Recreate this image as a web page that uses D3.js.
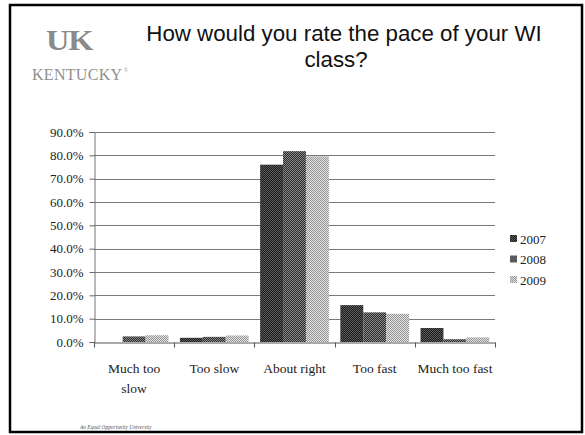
<!DOCTYPE html>
<html>
<head>
<meta charset="utf-8">
<script src="https://cdn.jsdelivr.net/npm/d3@7/dist/d3.min.js"></script>
<style>
  html, body { margin: 0; padding: 0; background: #fff; }
  svg { display: block; }
</style>
</head>
<body>
<svg id="chart" width="585" height="435"></svg>
<script>
// Survey: "How would you rate the pace of your WI class?"
const categories = [["Much too", "slow"], ["Too slow"], ["About right"], ["Too fast"], ["Much too fast"]];
const years = ["2007", "2008", "2009"];
const values2007 = [0.0, 1.8, 76.0, 15.8, 6.0];
const values2008 = [2.4, 2.2, 81.8, 12.7, 1.2];
const values2009 = [2.9, 2.8, 79.6, 12.1, 2.0];
const yTicks = [0, 10, 20, 30, 40, 50, 60, 70, 80, 90];

const series = [values2007, values2008, values2009];

const svg = d3.select("#chart");
const serif = "'Liberation Serif', 'DejaVu Serif', serif";
const sans = "'Liberation Sans', Arial, sans-serif";

// Dithered fills for the three years
const defs = svg.append("defs");
const patternSpecs = [
  { id: "p2007", bg: "#1c1c1c", fg: "#5a5a5a" },
  { id: "p2008", bg: "#2a2a2a", fg: "#8a8a8a" },
  { id: "p2009", bg: "#e2e2e2", fg: "#959595" }
];
patternSpecs.forEach(p => {
  const pat = defs.append("pattern").attr("id", p.id)
    .attr("patternUnits", "userSpaceOnUse").attr("width", 2).attr("height", 2);
  pat.append("rect").attr("width", 2).attr("height", 2).attr("fill", p.bg);
  pat.append("rect").attr("x", 0).attr("y", 0).attr("width", 1).attr("height", 1).attr("fill", p.fg);
  pat.append("rect").attr("x", 1).attr("y", 1).attr("width", 1).attr("height", 1).attr("fill", p.fg);
});
const fills = ["url(#p2007)", "url(#p2008)", "url(#p2009)"];

// Slide frame
svg.append("rect").attr("x", 10).attr("y", 5).attr("width", 572).attr("height", 427)
  .attr("fill", "none").attr("stroke", "#000").attr("stroke-width", 2.5);

// Logo
const logo = svg.append("g");
logo.append("text").attr("x", 0).attr("y", 0)
  .attr("transform", "translate(46,50) scale(1.12,1)")
  .style("font-family", serif).style("font-weight", "bold").attr("font-size", 29)
  .attr("fill", "#8a8a8a").attr("letter-spacing", -1)
  .text("UK");
logo.append("text").attr("x", 32).attr("y", 80)
  .style("font-family", serif).attr("font-size", 16).attr("fill", "#8f8f8f")
  .attr("letter-spacing", 0.3)
  .text("KENTUCKY");
logo.append("text").attr("x", 124).attr("y", 72)
  .style("font-family", sans).attr("font-size", 5).attr("fill", "#999")
  .text("®");

// Title
const title = svg.append("g").style("font-family", sans).attr("font-size", 22.3)
  .attr("fill", "#111").attr("text-anchor", "middle");
title.append("text").attr("x", 344).attr("y", 41).text("How would you rate the pace of your WI");
title.append("text").attr("x", 336).attr("y", 67).text("class?");

// Plot area
const margin = { left: 94, right: 495, top: 132, bottom: 342 };
const x = d3.scaleBand().domain(d3.range(categories.length))
  .range([margin.left, margin.right]).paddingInner(0).paddingOuter(0);
const xs = d3.scaleBand().domain(d3.range(years.length))
  .range([0, x.bandwidth()]).paddingInner(0).paddingOuter(0.25);
const y = d3.scaleLinear().domain([0, 90]).range([margin.bottom, margin.top]);

// Gridlines
svg.append("g").selectAll("line").data(yTicks.filter(t => t > 0)).join("line")
  .attr("x1", margin.left).attr("x2", margin.right)
  .attr("y1", d => Math.round(y(d)) + 0.5).attr("y2", d => Math.round(y(d)) + 0.5)
  .attr("stroke", "#7a7a7a").attr("stroke-width", 1);

// Bars
series.forEach((vals, si) => {
  svg.append("g").selectAll("rect").data(vals).join("rect")
    .attr("x", (d, i) => x(i) + xs(si))
    .attr("width", xs.bandwidth())
    .attr("y", d => y(d))
    .attr("height", d => y(0) - y(d))
    .attr("fill", fills[si]);
});

// Y axis
const yAxis = d3.axisLeft(y).tickValues(yTicks).tickSize(5)
  .tickFormat(d => d.toFixed(1) + "%");
const gy = svg.append("g").attr("transform", `translate(${margin.left + 0.5},0)`).call(yAxis);
gy.attr("font-family", null).attr("font-size", null);
gy.select(".domain").attr("stroke", "#777");
gy.selectAll(".tick line").attr("stroke", "#666");
gy.selectAll(".tick text").style("font-family", serif).style("font-size", "13px")
  .attr("fill", "#222").attr("x", -11);

// X axis
const xAxis = d3.axisBottom(x).tickSize(0).tickFormat("");
const gx = svg.append("g").attr("transform", `translate(0,${margin.bottom + 0.5})`).call(xAxis);
gx.select(".domain").attr("stroke", "#555");
gx.selectAll(".tick").remove();
const bounds = d3.range(categories.length + 1).map(i => margin.left + i * x.step());
gx.selectAll("line.sep").data(bounds).join("line").attr("class", "sep")
  .attr("x1", d => Math.round(d) + 0.5).attr("x2", d => Math.round(d) + 0.5)
  .attr("y1", 0).attr("y2", 5).attr("stroke", "#555");

const xl = svg.append("g").style("font-family", serif).attr("font-size", 13.5)
  .attr("fill", "#222").attr("text-anchor", "middle");
categories.forEach((lines, i) => {
  const t = xl.append("text").attr("x", x(i) + x.bandwidth() / 2).attr("y", 373);
  lines.forEach((ln, j) => {
    t.append("tspan").attr("x", x(i) + x.bandwidth() / 2).attr("dy", j === 0 ? 0 : 20).text(ln);
  });
});

// Legend
const legend = svg.append("g").selectAll("g").data(years).join("g")
  .attr("transform", (d, i) => `translate(510,${239 + i * 20.5})`);
legend.append("rect").attr("x", 0).attr("y", -4).attr("width", 7).attr("height", 7)
  .attr("fill", (d, i) => fills[i]);
legend.append("text").attr("x", 10).attr("y", 4.5)
  .style("font-family", serif).attr("font-size", 13).attr("fill", "#222")
  .text(d => d);

// Footer
svg.append("text").attr("x", 80).attr("y", 429)
  .style("font-family", serif).attr("font-style", "italic").attr("font-size", 5.4)
  .attr("fill", "#555").text("An Equal Opportunity University");
</script>
</body>
</html>
